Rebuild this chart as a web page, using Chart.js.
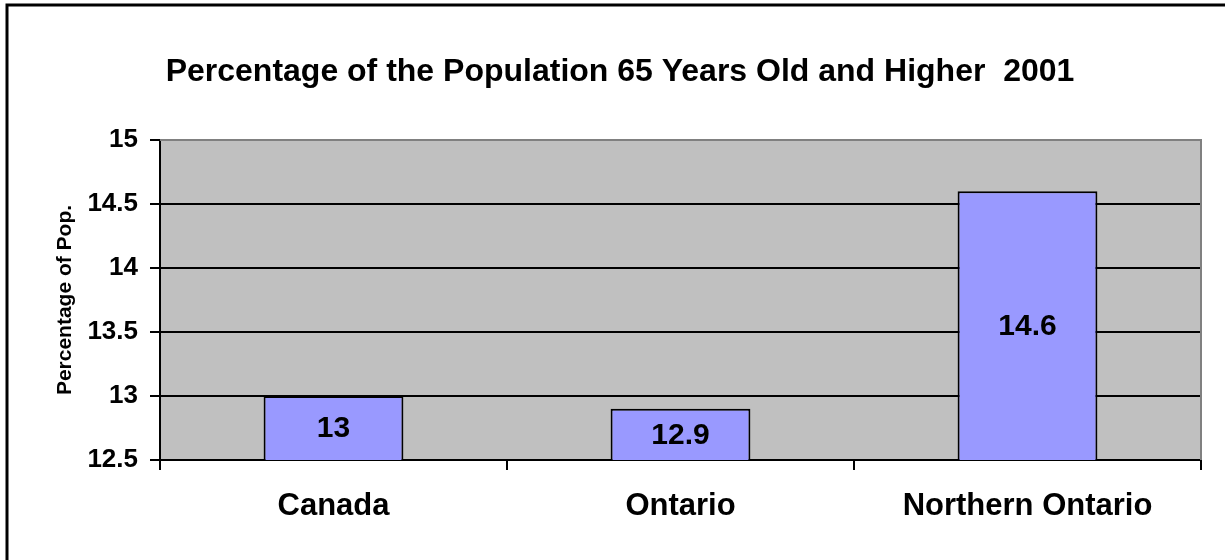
<!DOCTYPE html>
<html>
<head>
<meta charset="utf-8">
<script src="https://cdn.jsdelivr.net/npm/chart.js@4/dist/chart.umd.min.js"></script>
<style>
  body { margin: 0; background: #fff; }
  #wrap { width: 1225px; height: 560px; }
</style>
</head>
<body>
<div id="wrap"><canvas id="chart-bar" width="1225" height="560"></canvas></div>
<script>
var regions = ['Canada', 'Ontario', 'Northern Ontario'];
var pctSenior = [13, 12.9, 14.6];
var yTicks = [12.5, 13, 13.5, 14, 14.5, 15];

var fontFam = '"Liberation Sans", Arial, Helvetica, sans-serif';

// grey plot area, grey right/top edge and the outer frame
var plotBg = {
  id: 'plotBg',
  afterLayout: function(chart) {
    // title sits centred over the plot, not the whole canvas
    chart.titleBlock.left = chart.chartArea.left - 121;
  },
  beforeDraw: function(chart) {
    var ctx = chart.ctx, a = chart.chartArea;
    ctx.save();
    ctx.fillStyle = '#fff';
    ctx.fillRect(0, 0, chart.width, chart.height);
    ctx.fillStyle = '#C0C0C0';
    ctx.fillRect(a.left, a.top, a.right - a.left, a.bottom - a.top);
    ctx.restore();
  },
  afterDraw: function(chart) {
    var ctx = chart.ctx, a = chart.chartArea;
    ctx.save();
    ctx.strokeStyle = '#808080';
    ctx.lineWidth = 2;
    ctx.beginPath();
    ctx.moveTo(a.left, a.top);
    ctx.lineTo(a.right, a.top);
    ctx.lineTo(a.right, a.bottom);
    ctx.stroke();
    ctx.strokeStyle = '#000';
    ctx.lineWidth = 3;
    ctx.beginPath();
    ctx.moveTo(7, chart.height);
    ctx.lineTo(7, 5);
    ctx.lineTo(chart.width, 5);
    ctx.stroke();
    ctx.restore();
  }
};

// value in the middle of each bar
var barLabels = {
  id: 'barLabels',
  afterDraw: function(chart) {
    var ctx = chart.ctx;
    var meta = chart.getDatasetMeta(0);
    var yScale = chart.scales.y;
    var base = yScale.getPixelForValue(yScale.min);
    ctx.save();
    ctx.fillStyle = '#000';
    ctx.font = 'bold 30px ' + fontFam;
    ctx.textAlign = 'center';
    ctx.textBaseline = 'middle';
    meta.data.forEach(function(bar, i) {
      var top = yScale.getPixelForValue(pctSenior[i]);
      ctx.fillText(String(pctSenior[i]), bar.x, (top + base) / 2 + 1);
    });
    ctx.restore();
  }
};

new Chart(document.getElementById('chart-bar'), {
  type: 'bar',
  data: {
    labels: regions,
    datasets: [{
      label: 'Percentage of Pop.',
      data: pctSenior,
      backgroundColor: '#9999FF',
      borderColor: '#000',
      borderWidth: 2,
      categoryPercentage: 1,
      barPercentage: 0.403
    }]
  },
  options: {
    responsive: false,
    animation: false,
    layout: { padding: { left: 7, right: 24, top: 0, bottom: 0 } },
    plugins: {
      legend: { display: false },
      tooltip: { enabled: false },
      title: {
        display: true,
        text: 'Percentage of the Population 65 Years Old and Higher  2001',
        color: '#000',
        font: { family: fontFam, size: 32, weight: 'bold' },
        padding: { top: 53, bottom: 48.6 }
      }
    },
    scales: {
      x: {
        grid: {
          offset: true,
          drawOnChartArea: false,
          color: '#000',
          lineWidth: 2,
          tickLength: 10
        },
        border: { color: '#000', width: 2 },
        ticks: {
          color: '#000',
          padding: 18,
          font: { family: fontFam, size: 31, weight: 'bold' }
        },
        afterFit: function(scale) { scale.height = 100; }
      },
      y: {
        min: 12.5,
        max: 15,
        afterBuildTicks: function(scale) {
          scale.ticks = yTicks.map(function(v) { return { value: v }; });
        },
        grid: {
          color: function(c) { return c.tick && c.tick.value === 15 ? '#808080' : '#000'; },
          tickColor: '#000',
          lineWidth: 2,
          tickLength: 10
        },
        border: { color: '#000', width: 2 },
        ticks: {
          color: '#000',
          padding: 12,
          font: { family: fontFam, size: 26, weight: 'bold' },
          callback: function(v) { return String(v); }
        },
        title: {
          display: true,
          text: 'Percentage of Pop.',
          color: '#000',
          font: { family: fontFam, size: 21, weight: 'bold' },
          padding: { top: 46, bottom: 0 }
        },
        afterFit: function(scale) { scale.width = 153; }
      }
    }
  },
  plugins: [plotBg, barLabels]
});
</script>
</body>
</html>
